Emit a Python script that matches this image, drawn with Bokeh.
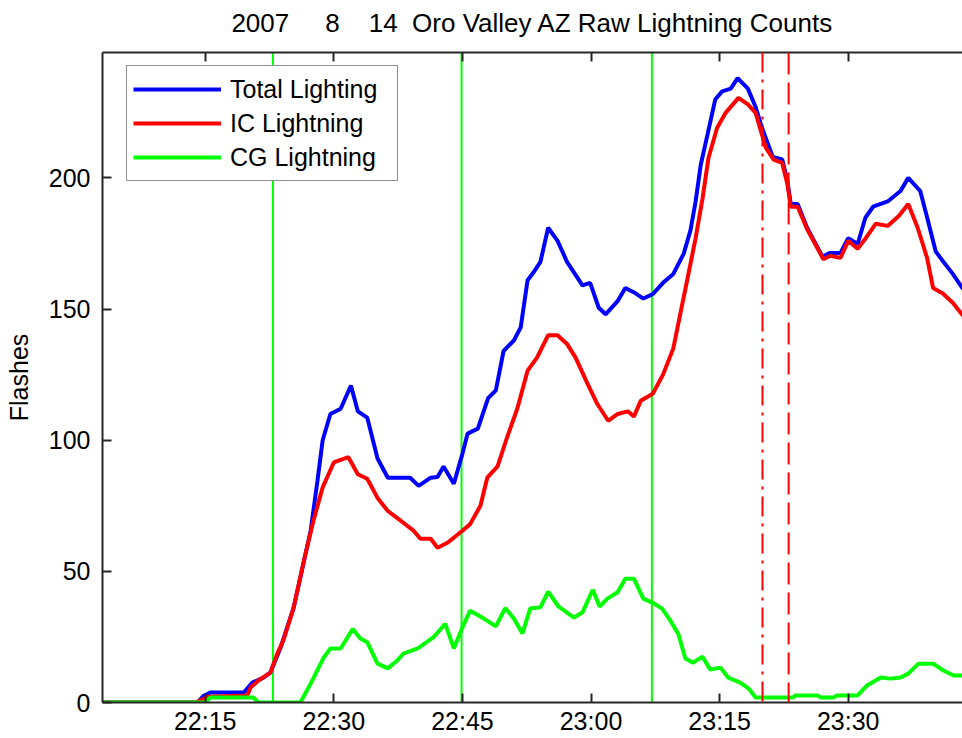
from bokeh.plotting import figure
from bokeh.models import Range1d, FixedTicker, LinearAxis, Span, Legend, LegendItem
from bokeh.embed import file_html
from bokeh.resources import INLINE

# ---------------- data (time in minutes after 22:00) ----------------
NB = "\u00a0"
title_text = "2007" + NB * 5 + "8" + NB * 4 + "14" + NB * 2 + "Oro Valley AZ Raw Lightning Counts"
y_label = "Flashes"
series_names = ["Total Lighting", "IC Lightning", "CG Lightning"]

x_tick_minutes = [15, 30, 45, 60, 75, 90]
x_tick_labels = ["22:15", "22:30", "22:45", "23:00", "23:15", "23:30"]
y_ticks = [0, 50, 100, 150, 200]

t_total = [3.0, 14.1, 14.8, 15.6, 19.5, 20.5, 21.8, 22.6, 23.8, 25.3, 26.1, 27.3, 28.1,
           28.7, 29.6, 30.8, 32.0, 32.8, 33.9, 35.1, 36.3, 38.9, 39.9, 41.3, 42.1, 42.8,
           44.0, 45.0, 45.6, 46.8, 48.0, 48.9, 49.8, 51.0, 51.8, 52.6, 53.3, 54.1, 55.0,
           56.1, 57.2, 58.2, 59.0, 59.9, 60.9, 61.7, 63.1, 64.0, 65.2, 66.1, 67.2, 68.4,
           69.6, 70.8, 71.6, 72.2, 72.8, 73.6, 74.5, 75.3, 76.3, 77.1, 78.3, 79.2, 79.8,
           80.4, 81.2, 82.3, 82.9, 83.3, 84.1, 85.2, 87.0, 87.9, 89.1, 90.0, 91.1, 92.0,
           92.9, 94.6, 96.1, 97.0, 98.4, 99.2, 100.2, 101.1, 102.2, 103.4]
total = [0, 0, 2.5, 3.8, 3.8, 7.6, 9.5, 11.4, 21, 36, 47.6, 65.5, 84.6,
         100, 110, 112, 120.8, 111, 108.6, 93, 85.7, 85.7, 82.6, 85.7, 86, 90,
         83.4, 94.8, 102.5, 104.4, 116, 119, 134, 138, 143, 161, 164, 168, 181,
         176, 168, 163, 159, 160, 150.5, 148, 153, 158, 156, 154, 155.7, 160,
         163.4, 171, 180, 191, 205, 216.7, 230, 233, 234, 238, 234, 227, 220.6,
         215, 208, 207, 199, 190, 190, 181, 170, 171.4, 171.4, 177, 174.8, 184.8,
         189, 191, 195, 200, 195, 185, 172, 168, 163.4, 157.6]

t_ic = [3.0, 13.9, 15.3, 19.9, 20.3, 21.2, 22.6, 23.4, 24.1, 25.3, 26.5, 27.6, 28.7,
        30.0, 31.7, 32.8, 33.9, 35.1, 36.3, 37.8, 39.3, 40.1, 41.3, 42.1, 43.3, 45.0,
        45.9, 47.1, 47.9, 49.1, 50.2, 51.4, 52.6, 53.7, 55.0, 56.1, 57.2, 58.2, 59.6,
        60.7, 62.0, 63.1, 64.3, 65.0, 65.8, 67.2, 68.4, 69.6, 70.4, 71.2, 72.2, 73.0,
        73.7, 74.7, 75.7, 77.2, 78.3, 79.2, 79.8, 80.4, 81.3, 82.3, 82.9, 83.3, 84.1,
        85.2, 87.1, 87.9, 89.1, 90.0, 91.1, 92.0, 93.2, 94.6, 95.9, 97.0, 98.1, 99.2,
        99.9, 101.0, 102.2, 103.4]
ic = [0, 0, 2.2, 2.7, 5.7, 8.4, 11.4, 18.6, 23.6, 36, 54, 69, 82,
      91.5, 93.5, 87, 85.3, 78, 73, 69.3, 65.5, 62.4, 62.4, 59, 61, 65.5,
      68, 75, 85.7, 90, 101, 112, 126.5, 131.5, 140, 140, 136.7, 131.5, 121.5,
      114, 107.4, 110, 111, 109, 115, 117.7, 125, 135, 148, 160.7, 177, 192,
      207.6, 219, 224.8, 230.5, 228, 224.8, 218, 211.4, 207, 205.7, 197.7, 189, 189,
      180.5, 169, 170.3, 169.5, 176, 173, 176.8, 182.5, 181.7, 185.5, 190, 181, 169.5,
      158, 156, 152.4, 147.4]

t_cg = [3.0, 15.0, 15.6, 20.6, 21.2, 26.1, 27.3, 28.8, 29.6, 30.8, 32.2, 33.1, 33.9,
        35.1, 36.3, 37.4, 38.1, 39.8, 41.6, 43.0, 44.0, 45.0, 45.9, 47.5, 48.9, 50.0,
        51.0, 52.0, 52.9, 54.1, 55.0, 56.2, 58.0, 59.0, 60.2, 61.0, 61.9, 63.1, 64.0,
        65.0, 66.1, 67.2, 68.3, 69.3, 70.2, 71.0, 71.9, 73.0, 73.9, 75.1, 76.0, 77.4,
        78.4, 79.2, 83.6, 83.8, 86.4, 86.8, 88.3, 88.7, 91.1, 92.2, 93.8, 94.9, 96.1,
        97.0, 98.2, 99.9, 101.1, 102.3, 103.4]
cg = [0, 0, 1.9, 1.9, 0, 0, 7.2, 17, 20.6, 20.6, 28, 24.4, 23,
      14.8, 13, 16, 18.6, 20.6, 24.8, 30, 20.6, 28.6, 35, 32, 29, 36,
      32, 26.3, 35.8, 36.3, 42.3, 36.6, 32.4, 34.3, 43, 36.6, 39.6, 42, 47.2,
      47.2, 39.6, 38, 35.8, 31, 26, 16.8, 15.2, 17.5, 12.6, 13.3, 9.5, 7.6,
      5.3, 1.9, 1.9, 2.7, 2.7, 1.9, 1.9, 2.7, 2.7, 6.5, 9.5, 9.1, 9.5,
      11, 14.8, 14.8, 12.2, 10.3, 10.3]

green_marks = [22.9, 44.9, 67.1]      # solid green verticals
red_dashdot_mark = 80.0               # 23:20
red_dashed_mark = 83.05               # 23:23

# ---------------- figure ----------------
FONT = "Liberation Sans"
AX = "#262626"

p = figure(width=962, height=738,
           x_range=Range1d(3.02, 103.33), y_range=Range1d(0, 247.8),
           output_backend="svg", toolbar_location=None,
           min_border_left=102, min_border_right=0, min_border_top=52, min_border_bottom=36,
           title=title_text)
p.outline_line_color = None
p.grid.visible = False
p.background_fill_color = "white"
p.border_fill_color = "white"

p.title.text_font = FONT
p.title.text_font_size = "26px"
p.title.text_font_style = "normal"
p.title.align = "center"
p.title.text_color = "black"
p.title.standoff = 8

xa = p.xaxis[0]
xa.ticker = FixedTicker(ticks=x_tick_minutes)
xa.major_label_overrides = {m: s for m, s in zip(x_tick_minutes, x_tick_labels)}
ya = p.yaxis[0]
ya.ticker = FixedTicker(ticks=y_ticks)
ya.axis_label = y_label

for ax in (xa, ya):
    ax.axis_line_color = AX
    ax.axis_line_width = 2
    ax.major_tick_line_color = AX
    ax.major_tick_line_width = 2
    ax.major_tick_in = 9
    ax.major_tick_out = 0
    ax.minor_tick_line_color = None
    ax.major_label_text_font = FONT
    ax.major_label_text_font_size = "25px"
    ax.major_label_text_color = "black"
    ax.axis_label_text_font = FONT
    ax.axis_label_text_font_size = "25px"
    ax.axis_label_text_font_style = "normal"
    ax.axis_label_text_color = "black"
xa.major_label_standoff = 4
ya.major_label_standoff = 12
ya.axis_label_standoff = 13

# top border with inward ticks (MATLAB "box on")
top = LinearAxis(ticker=FixedTicker(ticks=x_tick_minutes))
top.major_label_overrides = {m: "" for m in x_tick_minutes}
top.axis_line_color = AX
top.axis_line_width = 2
top.major_tick_line_color = AX
top.major_tick_line_width = 2
top.major_tick_in = 9
top.major_tick_out = 0
top.minor_tick_line_color = None
top.major_label_standoff = 0
p.add_layout(top, "above")

# invisible spacer axis that lifts the title away from the frame
spacer = LinearAxis(ticker=FixedTicker(ticks=x_tick_minutes))
spacer.major_label_overrides = {m: "" for m in x_tick_minutes}
spacer.axis_line_color = None
spacer.major_tick_line_color = None
spacer.minor_tick_line_color = None
spacer.major_tick_in = 0
spacer.major_tick_out = 11
spacer.major_label_standoff = 0
p.add_layout(spacer, "above")

for m in green_marks:
    p.add_layout(Span(location=m, dimension="height", line_color="#00FF00",
                      line_width=2, level="underlay"))

r_tot = p.line(t_total, total, line_color="#0000FF", line_width=4)
r_ic = p.line(t_ic, ic, line_color="#FF0000", line_width=4)
r_cg = p.line(t_cg, cg, line_color="#00FF00", line_width=4)

p.add_layout(Span(location=red_dashdot_mark, dimension="height", line_color="#FF0000",
                  line_width=2, line_dash="20 7 3 7"))
p.add_layout(Span(location=red_dashed_mark, dimension="height", line_color="#FF0000",
                  line_width=2, line_dash="22 8"))

legend = Legend(items=[LegendItem(label=series_names[0], renderers=[r_tot]),
                       LegendItem(label=series_names[1], renderers=[r_ic]),
                       LegendItem(label=series_names[2], renderers=[r_cg])],
                location=(24, 521))
legend.label_text_font = FONT
legend.label_text_font_size = "25px"
legend.label_text_color = "black"
legend.padding = 6
legend.spacing = 0
legend.margin = 0
legend.label_height = 34
legend.glyph_height = 34
legend.glyph_width = 88
legend.label_standoff = 9
legend.label_width = 161
legend.border_line_color = AX
legend.border_line_width = 1.5
legend.background_fill_color = "white"
legend.background_fill_alpha = 1.0
p.add_layout(legend)

open("out.html", "w").write(file_html(p, INLINE))
